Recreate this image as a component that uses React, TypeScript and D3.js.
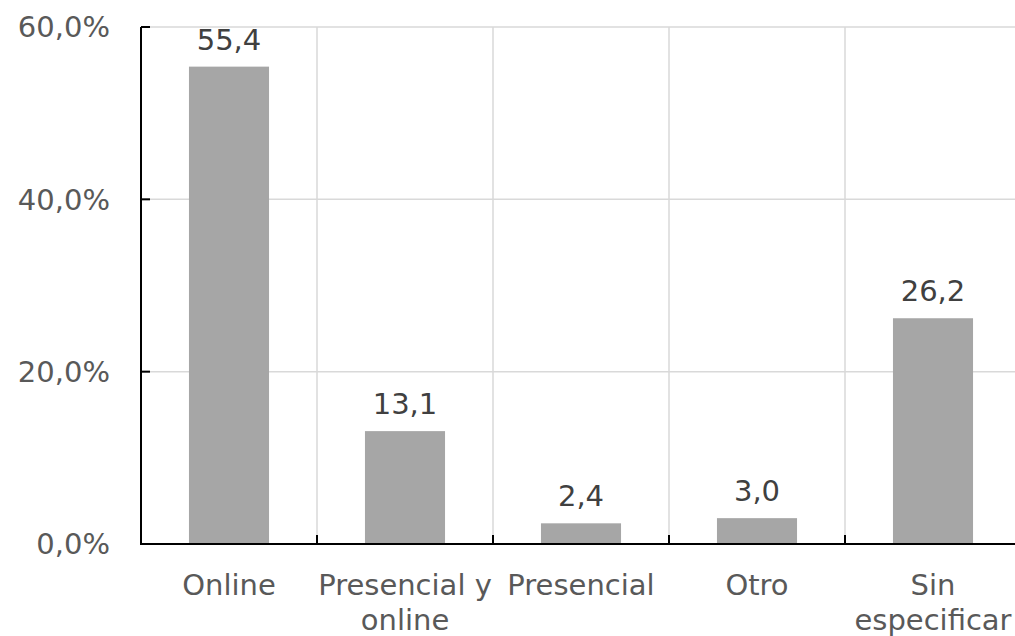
import React from "react";
import * as d3 from "d3";

const categories = ["Online", "Presencial y online", "Presencial", "Otro", "Sin especificar"];
const categoryLines = [["Online"], ["Presencial y", "online"], ["Presencial"], ["Otro"], ["Sin", "especificar"]];
const values = [55.4, 13.1, 2.4, 3.0, 26.2];
const yTicks = [0, 20, 40, 60];

const W = 1015;
const H = 636;
const M = { left: 141, top: 27, bottom: 92 };
const plotRight = 141 + 5 * 176;
const FONT = "'DejaVu Sans', Verdana, sans-serif";

const fmt = (v: number) => v.toFixed(1).replace(".", ",");

export default function App() {
  const x = d3.scaleBand<string>().domain(categories).range([M.left, plotRight]).paddingInner(0).paddingOuter(0);
  const y = d3.scaleLinear().domain([0, 60]).range([H - M.bottom, M.top]);
  const bw = x.bandwidth() * 0.455;
  const y0 = y(0);
  return (
    <svg width={W} height={H} style={{ position: "absolute", left: 0, top: 0, background: "#fff" }}>
      {/* horizontal gridlines */}
      {yTicks.filter((t) => t > 0).map((t) => (
        <line key={"hg" + t} x1={M.left} x2={plotRight} y1={y(t)} y2={y(t)} stroke="#d9d9d9" strokeWidth={1.5} />
      ))}
      {/* vertical gridlines */}
      {categories.slice(1).map((c) => (
        <line key={"vg" + c} x1={x(c)!} x2={x(c)!} y1={y(60)} y2={y0} stroke="#d9d9d9" strokeWidth={1.5} />
      ))}
      {/* bars */}
      {categories.map((c, i) => (
        <rect
          key={"b" + c}
          x={x(c)! + (x.bandwidth() - bw) / 2}
          y={y(values[i])}
          width={bw}
          height={y0 - y(values[i])}
          fill="#a6a6a6"
        />
      ))}
      {/* data labels */}
      {categories.map((c, i) => (
        <text
          key={"l" + c}
          x={x(c)! + x.bandwidth() / 2}
          y={y(values[i]) - 17}
          textAnchor="middle"
          fontFamily={FONT}
          fontSize={29}
          fill="#404040"
        >
          {fmt(values[i])}
        </text>
      ))}
      {/* axes */}
      <line x1={M.left} x2={M.left} y1={y(60)} y2={y0 + 1} stroke="#000" strokeWidth={2} />
      <line x1={M.left - 1} x2={plotRight} y1={y0} y2={y0} stroke="#000" strokeWidth={2} />
      {yTicks.map((t) => (
        <g key={"yt" + t}>
          <line x1={M.left} x2={M.left + 9} y1={y(t)} y2={y(t)} stroke="#000" strokeWidth={2} />
          <text
            x={110}
            y={y(t)}
            dy="0.36em"
            textAnchor="end"
            fontFamily={FONT}
            fontSize={29}
            fill="#595959"
          >
            {t.toFixed(1).replace(".", ",") + "%"}
          </text>
        </g>
      ))}
      {categories.slice(1).map((c) => (
        <line key={"xt" + c} x1={x(c)!} x2={x(c)!} y1={y0} y2={y0 - 9} stroke="#000" strokeWidth={2} />
      ))}
      {categories.map((c, i) => (
        <text
          key={"c" + c}
          x={x(c)! + x.bandwidth() / 2}
          y={595}
          textAnchor="middle"
          fontFamily={FONT}
          fontSize={29}
          fill="#595959"
        >
          {categoryLines[i].map((ln, j) => (
            <tspan key={j} x={x(c)! + x.bandwidth() / 2} dy={j === 0 ? 0 : 35}>
              {ln}
            </tspan>
          ))}
        </text>
      ))}
    </svg>
  );
}
